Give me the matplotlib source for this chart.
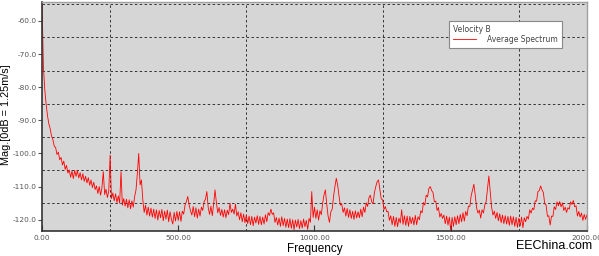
import matplotlib
matplotlib.use('Agg')
import matplotlib.pyplot as plt
from matplotlib.ticker import FormatStrFormatter
import numpy as np

plt.rcParams['axes.unicode_minus'] = False

# frequency axis: 0..2000 Hz, one value every 5 Hz
freq = np.arange(0, 2001, 5)

mag_0_95 = [-53.0, -73.5, -80.5, -85.0, -88.5, -91.0, -92.5, -94.8, -95.8, -97.8,
            -98.2, -100.3, -99.6, -101.9, -101.2, -103.5, -102.3, -104.8, -103.6, -105.9]
mag_100_195 = [-105.0, -107.2, -105.3, -107.6, -105.1, -106.9, -105.2, -107.4, -105.8, -108.0,
               -106.1, -108.4, -106.9, -108.9, -107.3, -109.6, -108.0, -110.3, -108.7, -110.9]
mag_200_295 = [-109.8, -112.1, -110.0, -112.6, -110.3, -105.5, -112.4, -110.8, -113.3, -111.4,
               -100.5, -113.6, -111.9, -114.3, -112.2, -114.8, -112.8, -115.0, -105.5, -115.6]
mag_300_395 = [-113.6, -115.9, -113.8, -116.4, -114.0, -116.7, -114.3, -116.2, -113.0, -111.0,
               -106.0, -100.0, -109.5, -108.0, -114.0, -117.8, -115.6, -118.6, -116.2, -118.9]
mag_400_495 = [-116.5, -119.2, -116.8, -119.6, -117.0, -120.1, -117.2, -119.4, -116.9, -120.3,
               -117.4, -119.8, -117.1, -120.6, -117.6, -119.9, -121.3, -117.8, -120.4, -117.5]
mag_500_595 = [-120.2, -117.6, -120.5, -117.4, -118.3, -115.6, -114.5, -113.0, -115.6, -117.3,
               -118.6, -116.0, -119.1, -116.4, -119.5, -116.8, -118.9, -116.2, -117.2, -114.5]
mag_600_695 = [-113.8, -111.5, -116.3, -118.4, -115.9, -118.8, -115.2, -111.0, -114.8, -117.9,
               -116.3, -118.7, -116.9, -119.2, -117.0, -119.4, -117.1, -118.5, -115.0, -117.8]
mag_700_795 = [-116.8, -118.3, -115.3, -118.9, -117.6, -120.0, -117.9, -120.6, -118.3, -120.9,
               -118.6, -121.2, -118.9, -121.5, -119.0, -121.8, -119.2, -121.0, -118.8, -121.4]
mag_800_895 = [-119.0, -121.5, -119.2, -121.3, -118.5, -120.6, -117.9, -118.7, -116.8, -118.4,
               -117.9, -120.8, -119.3, -121.6, -119.5, -122.0, -119.1, -121.8, -119.6, -122.3]
mag_900_995 = [-119.8, -122.4, -119.7, -122.6, -120.0, -123.0, -120.1, -122.2, -119.9, -122.7,
               -120.3, -122.5, -119.8, -122.1, -120.2, -122.9, -119.6, -120.8, -111.5, -119.3]
mag_1000_1095 = [-116.2, -119.6, -117.0, -120.1, -117.3, -118.5, -115.0, -112.5, -111.0, -115.3,
                 -118.9, -120.8, -117.6, -116.8, -113.0, -110.0, -107.5, -109.5, -112.8, -115.6]
mag_1100_1195 = [-115.2, -117.8, -116.4, -118.9, -116.6, -119.3, -117.0, -119.6, -117.5, -119.9,
                 -117.3, -119.5, -117.6, -119.4, -116.8, -119.1, -116.2, -117.8, -114.9, -116.0]
mag_1200_1295 = [-113.3, -112.6, -114.6, -115.2, -111.8, -110.0, -108.5, -108.0, -110.9, -113.7,
                 -114.0, -116.9, -116.0, -117.6, -117.5, -120.2, -118.8, -121.5, -119.0, -122.0]
mag_1300_1395 = [-119.3, -122.1, -119.5, -121.0, -117.0, -121.4, -118.8, -121.7, -118.9, -122.0,
                 -119.0, -121.2, -119.3, -121.6, -118.7, -121.5, -119.1, -120.0, -117.3, -117.9]
mag_1400_1495 = [-114.8, -115.6, -112.6, -113.1, -110.5, -110.0, -111.2, -111.8, -114.6, -114.4,
                 -117.2, -116.3, -119.2, -118.1, -119.6, -118.6, -121.2, -118.9, -121.6, -119.2]
mag_1500_1595 = [-123.2, -119.3, -122.0, -119.1, -121.5, -118.8, -121.2, -118.4, -120.6, -117.9,
                 -120.4, -117.5, -118.8, -115.9, -116.0, -112.8, -111.0, -109.3, -112.6, -116.4]
mag_1600_1695 = [-118.0, -117.1, -119.5, -117.0, -118.0, -115.6, -114.5, -110.5, -106.8, -111.5,
                 -116.2, -118.6, -117.4, -119.6, -117.8, -120.3, -118.2, -120.9, -118.6, -121.2]
mag_1700_1795 = [-118.8, -121.3, -119.0, -121.7, -118.9, -121.5, -119.1, -122.0, -119.3, -122.3,
                 -119.5, -121.9, -119.2, -122.4, -119.4, -120.6, -119.0, -119.8, -117.0, -118.0]
mag_1800_1895 = [-116.5, -117.0, -114.3, -114.4, -111.5, -111.2, -109.8, -111.0, -111.8, -115.2,
                 -115.6, -119.0, -118.8, -121.6, -118.9, -119.0, -116.1, -116.9, -114.6, -115.8]
mag_1900_2000 = [-114.5, -116.1, -114.9, -117.2, -116.2, -117.8, -116.4, -116.8, -114.6, -115.4,
                 -114.2, -116.1, -115.8, -118.9, -117.5, -119.2, -118.0, -120.2, -118.4, -119.9,
                 -118.5]

mag = np.array(mag_0_95 + mag_100_195 + mag_200_295 + mag_300_395 + mag_400_495 +
               mag_500_595 + mag_600_695 + mag_700_795 + mag_800_895 + mag_900_995 +
               mag_1000_1095 + mag_1100_1195 + mag_1200_1295 + mag_1300_1395 +
               mag_1400_1495 + mag_1500_1595 + mag_1600_1695 + mag_1700_1795 +
               mag_1800_1895 + mag_1900_2000)

xticks = [0, 500, 1000, 1500, 2000]
yticks = [-60, -70, -80, -90, -100, -110, -120]
xgrid = [250, 750, 1250, 1750]
ygrid = [-55, -65, -75, -85, -95, -105, -115]

fig = plt.figure(figsize=(5.99, 2.56), dpi=100)
ax = fig.add_axes([0.0701, 0.0977, 0.9098, 0.8945])
ax.set_facecolor('#d6d6d6')

ax.plot(freq, mag, color='#ff0000', lw=0.6, label='Average Spectrum')

ax.set_xlim(0, 2000)
ax.set_ylim(-123.4, -54.3)

ax.set_xticks(xticks)
ax.set_yticks(yticks)
ax.set_xticks(xgrid, minor=True)
ax.set_yticks(ygrid, minor=True)
ax.xaxis.set_major_formatter(FormatStrFormatter('%.2f'))
ax.yaxis.set_major_formatter(FormatStrFormatter('%.1f'))
ax.grid(False, which='major')
ax.grid(True, which='minor', color='#333333', lw=0.7, linestyle=(0, (2.5, 2.5)))
ax.tick_params(which='minor', length=0)
ax.tick_params(axis='x', which='major', direction='in', length=4, width=0.8,
               labelsize=5.3, labelcolor='#555555', color='#333333', pad=3)
ax.tick_params(axis='y', which='major', direction='out', length=3, width=0.8,
               labelsize=5.3, labelcolor='#555555', color='#555555', pad=1)

for s in ['left', 'bottom']:
    ax.spines[s].set_color('#333333')
    ax.spines[s].set_linewidth(1.2)
for s in ['top', 'right']:
    ax.spines[s].set_color('#a0a0a0')
    ax.spines[s].set_linewidth(1.0)

ax.set_xlabel('Frequency', fontsize=8.5, family='Liberation Sans', labelpad=1)
ax.set_ylabel('Mag.[0dB = 1.25m/s]', fontsize=7.8, family='Liberation Sans')
ax.yaxis.set_label_coords(-0.056, 0.507)

leg = ax.legend(title='Velocity B', loc='upper left', bbox_to_anchor=(0.740, 0.935),
                fontsize=5.5, title_fontsize=5.5, alignment='left', frameon=True,
                fancybox=False, framealpha=1, facecolor='white', edgecolor='#888888',
                handlelength=3.0, handletextpad=1.5, borderpad=0.5, labelspacing=0.2)
leg.get_frame().set_linewidth(0.8)
leg.get_title().set_color('#444444')
for t in leg.get_texts():
    t.set_color('#444444')

fig.text(0.988, 0.015, 'EEChina.com', ha='right', va='bottom', fontsize=9,
         family='Liberation Sans', color='black')

fig.savefig('out.png', dpi=100)
